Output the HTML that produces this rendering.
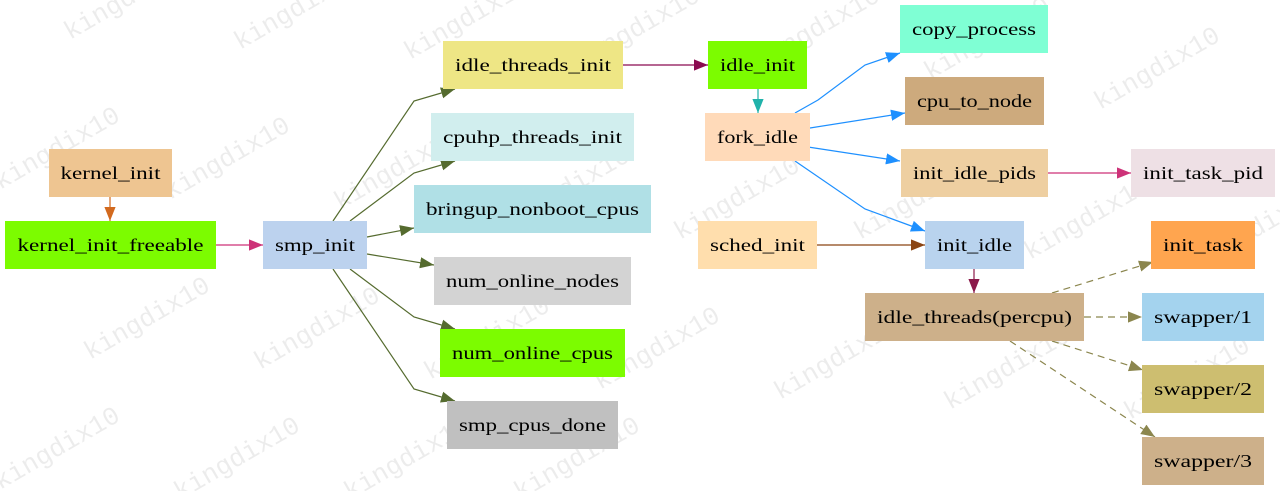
<!DOCTYPE html>
<html><head><meta charset="utf-8"><style>
html,body{margin:0;padding:0;background:#fff;width:1280px;height:491px;overflow:hidden}
text{font-family:"Liberation Serif",serif;font-size:18px;fill:#000}
.wm{font-family:"Liberation Mono",monospace;font-size:26px;fill:#000;opacity:0.07}
</style></head><body>
<svg width="1280" height="491" viewBox="0 0 1280 491" xmlns="http://www.w3.org/2000/svg">
<defs>
<marker id="a" viewBox="0 0 10 10" refX="10" refY="5" markerWidth="14" markerHeight="14" markerUnits="userSpaceOnUse" orient="auto"><path d="M0,1 L10,5 L0,9 z" fill="context-stroke"/></marker>
</defs>
<g class="wmg">
<text class="wm" transform="translate(70,40) rotate(-30)">kingdix10</text>
<text class="wm" transform="translate(240,50) rotate(-30)">kingdix10</text>
<text class="wm" transform="translate(410,60) rotate(-30)">kingdix10</text>
<text class="wm" transform="translate(580,70) rotate(-30)">kingdix10</text>
<text class="wm" transform="translate(760,70) rotate(-30)">kingdix10</text>
<text class="wm" transform="translate(930,80) rotate(-30)">kingdix10</text>
<text class="wm" transform="translate(1100,110) rotate(-30)">kingdix10</text>
<text class="wm" transform="translate(0,190) rotate(-30)">kingdix10</text>
<text class="wm" transform="translate(170,200) rotate(-30)">kingdix10</text>
<text class="wm" transform="translate(340,210) rotate(-30)">kingdix10</text>
<text class="wm" transform="translate(510,230) rotate(-30)">kingdix10</text>
<text class="wm" transform="translate(680,240) rotate(-30)">kingdix10</text>
<text class="wm" transform="translate(860,240) rotate(-30)">kingdix10</text>
<text class="wm" transform="translate(1030,260) rotate(-30)">kingdix10</text>
<text class="wm" transform="translate(1200,270) rotate(-30)">kingdix10</text>
<text class="wm" transform="translate(90,360) rotate(-30)">kingdix10</text>
<text class="wm" transform="translate(260,370) rotate(-30)">kingdix10</text>
<text class="wm" transform="translate(430,380) rotate(-30)">kingdix10</text>
<text class="wm" transform="translate(600,390) rotate(-30)">kingdix10</text>
<text class="wm" transform="translate(780,400) rotate(-30)">kingdix10</text>
<text class="wm" transform="translate(950,410) rotate(-30)">kingdix10</text>
<text class="wm" transform="translate(1130,420) rotate(-30)">kingdix10</text>
<text class="wm" transform="translate(0,490) rotate(-30)">kingdix10</text>
<text class="wm" transform="translate(180,500) rotate(-30)">kingdix10</text>
<text class="wm" transform="translate(350,500) rotate(-30)">kingdix10</text>
<text class="wm" transform="translate(520,500) rotate(-30)">kingdix10</text>
</g>
<g fill="none" stroke-width="1.2">
<path d="M110,197 V221" stroke="#d2691e" marker-end="url(#a)"/>
<path d="M216,245 H263" stroke="#cd3278" marker-end="url(#a)"/>
<g stroke="#556b2f">
<path d="M333,221 L414,101 L455,89" marker-end="url(#a)"/>
<path d="M350,221 L414,173 L455,161" marker-end="url(#a)"/>
<path d="M367,237 L414,228" marker-end="url(#a)"/>
<path d="M367,254 L434,265" marker-end="url(#a)"/>
<path d="M350,269 L414,317 L455,329" marker-end="url(#a)"/>
<path d="M333,269 L414,389 L455,401" marker-end="url(#a)"/>
</g>
<path d="M623,65 H708" stroke="#8b0a50" marker-end="url(#a)"/>
<path d="M758,89 V113" stroke="#20b2aa" marker-end="url(#a)"/>
<g stroke="#1e90ff">
<path d="M795,113 L818,100 L865,65 L900,53" marker-end="url(#a)"/>
<path d="M810,128 L905,113" marker-end="url(#a)"/>
<path d="M808,147 L900,161" marker-end="url(#a)"/>
<path d="M795,161 L865,209 L925,231" marker-end="url(#a)"/>
</g>
<path d="M1048,173 H1131" stroke="#cd3278" marker-end="url(#a)"/>
<path d="M817,245 H925" stroke="#8b4513" marker-end="url(#a)"/>
<path d="M974,269 V293" stroke="#8b1a4a" marker-end="url(#a)"/>
<g stroke="#8b864e" stroke-dasharray="7,5">
<path d="M1052,293 L1153,262" marker-end="url(#a)"/>
<path d="M1084,317 H1142" marker-end="url(#a)"/>
<path d="M1052,341 L1143,370" marker-end="url(#a)"/>
<path d="M1010,341 L1155,437" marker-end="url(#a)"/>
</g>
</g>
<g>
<rect x="49" y="149" width="123" height="48" fill="#eec591"/><text x="110.5" y="179" text-anchor="middle" textLength="100" lengthAdjust="spacingAndGlyphs">kernel_init</text>
<rect x="5" y="221" width="211" height="48" fill="#7cfc00"/><text x="110.5" y="251" text-anchor="middle" textLength="186" lengthAdjust="spacingAndGlyphs">kernel_init_freeable</text>
<rect x="263" y="221" width="104" height="48" fill="#bcd2ee"/><text x="315" y="251" text-anchor="middle" textLength="80" lengthAdjust="spacingAndGlyphs">smp_init</text>
<rect x="443" y="41" width="180" height="48" fill="#eee685"/><text x="533" y="71" text-anchor="middle" textLength="156" lengthAdjust="spacingAndGlyphs">idle_threads_init</text>
<rect x="431" y="113" width="203" height="48" fill="#d1eeee"/><text x="532.5" y="143" text-anchor="middle" textLength="179" lengthAdjust="spacingAndGlyphs">cpuhp_threads_init</text>
<rect x="414" y="185" width="237" height="48" fill="#b0e0e6"/><text x="532.5" y="215" text-anchor="middle" textLength="213" lengthAdjust="spacingAndGlyphs">bringup_nonboot_cpus</text>
<rect x="434" y="257" width="197" height="48" fill="#d3d3d3"/><text x="532.5" y="287" text-anchor="middle" textLength="173" lengthAdjust="spacingAndGlyphs">num_online_nodes</text>
<rect x="440" y="329" width="185" height="48" fill="#7cfc00"/><text x="532.5" y="359" text-anchor="middle" textLength="161" lengthAdjust="spacingAndGlyphs">num_online_cpus</text>
<rect x="447" y="401" width="171" height="48" fill="#c0c0c0"/><text x="532.5" y="431" text-anchor="middle" textLength="147" lengthAdjust="spacingAndGlyphs">smp_cpus_done</text>
<rect x="708" y="41" width="99" height="48" fill="#7cfc00"/><text x="757.5" y="71" text-anchor="middle" textLength="75" lengthAdjust="spacingAndGlyphs">idle_init</text>
<rect x="705" y="113" width="105" height="48" fill="#ffdab9"/><text x="757.5" y="143" text-anchor="middle" textLength="81" lengthAdjust="spacingAndGlyphs">fork_idle</text>
<rect x="698" y="221" width="119" height="48" fill="#ffdead"/><text x="757.5" y="251" text-anchor="middle" textLength="95" lengthAdjust="spacingAndGlyphs">sched_init</text>
<rect x="900" y="5" width="148" height="48" fill="#7fffd4"/><text x="974" y="35" text-anchor="middle" textLength="124" lengthAdjust="spacingAndGlyphs">copy_process</text>
<rect x="905" y="77" width="139" height="48" fill="#cdaa7d"/><text x="974.5" y="107" text-anchor="middle" textLength="115" lengthAdjust="spacingAndGlyphs">cpu_to_node</text>
<rect x="901" y="149" width="147" height="48" fill="#eecfa1"/><text x="974.5" y="179" text-anchor="middle" textLength="123" lengthAdjust="spacingAndGlyphs">init_idle_pids</text>
<rect x="925" y="221" width="99" height="48" fill="#b9d3ee"/><text x="974.5" y="251" text-anchor="middle" textLength="75" lengthAdjust="spacingAndGlyphs">init_idle</text>
<rect x="1131" y="149" width="144" height="48" fill="#eee0e5"/><text x="1203" y="179" text-anchor="middle" textLength="120" lengthAdjust="spacingAndGlyphs">init_task_pid</text>
<rect x="865" y="293" width="219" height="48" fill="#cdb08a"/><text x="974.5" y="323" text-anchor="middle" textLength="195" lengthAdjust="spacingAndGlyphs">idle_threads(percpu)</text>
<rect x="1151" y="221" width="104" height="48" fill="#ffa54f"/><text x="1203" y="251" text-anchor="middle" textLength="80" lengthAdjust="spacingAndGlyphs">init_task</text>
<rect x="1142" y="293" width="122" height="48" fill="#a4d3ee"/><text x="1203" y="323" text-anchor="middle" textLength="98" lengthAdjust="spacingAndGlyphs">swapper/1</text>
<rect x="1142" y="365" width="122" height="48" fill="#cdbe70"/><text x="1203" y="395" text-anchor="middle" textLength="98" lengthAdjust="spacingAndGlyphs">swapper/2</text>
<rect x="1142" y="437" width="122" height="48" fill="#cdb08a"/><text x="1203" y="467" text-anchor="middle" textLength="98" lengthAdjust="spacingAndGlyphs">swapper/3</text>
</g>
</svg>
</body></html>
